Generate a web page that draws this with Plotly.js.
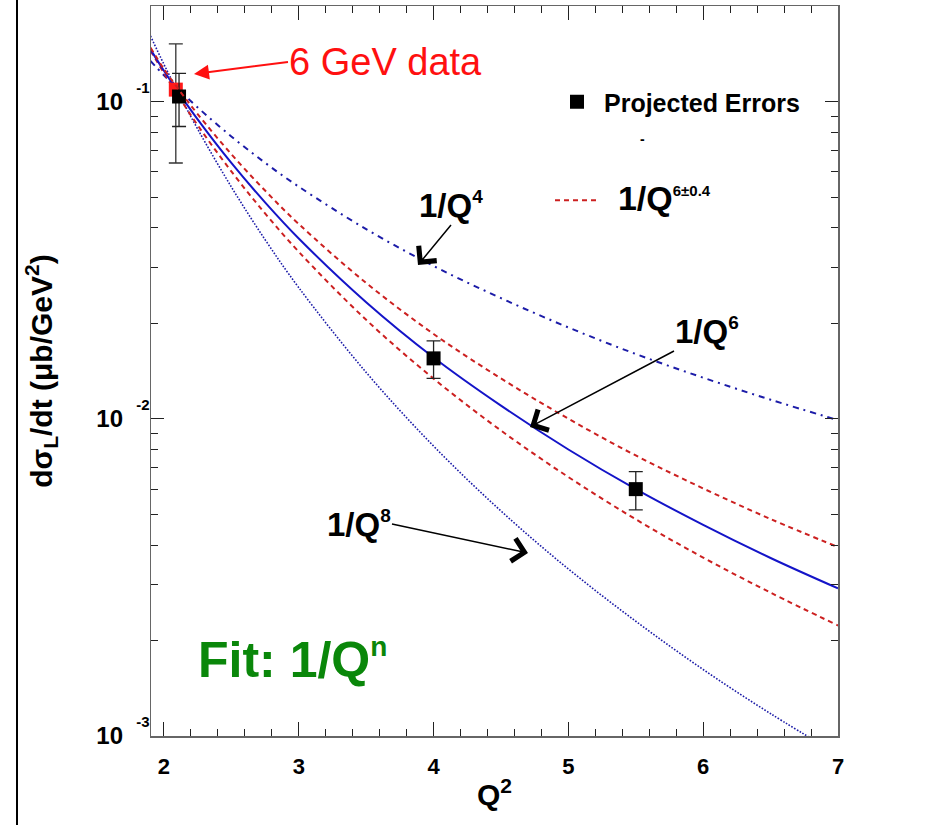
<!DOCTYPE html>
<html>
<head>
<meta charset="utf-8">
<script src="https://cdn.plot.ly/plotly-3.0.1.min.js"></script>
<style>html,body{margin:0;padding:0;background:#fff;}#chart{width:930px;height:825px;}</style>
</head>
<body>
<div id="chart"></div>
<script>
// ---- data ----
const q2Grid = [1.9, 2.0, 2.1, 2.25, 2.5, 2.75, 3.0, 3.5, 4.0, 4.5, 5.0, 5.5, 6.0, 6.5, 7.0];
const fitQ6   = [0.146, 0.125, 0.108, 0.0878, 0.064, 0.0481, 0.037, 0.0233, 0.0156, 0.0110, 0.0080, 0.0060, 0.00463, 0.00364, 0.00292];
const fitQ6up = [0.148, 0.1265, 0.1105, 0.0913, 0.0682, 0.0524, 0.0411, 0.0268, 0.0185, 0.0134, 0.0100, 0.00766, 0.00603, 0.00483, 0.00394];
const fitQ6lo = [0.1447, 0.123, 0.1052, 0.0842, 0.0602, 0.0444, 0.0336, 0.0205, 0.01338, 0.00918, 0.00655, 0.00482, 0.00365, 0.00283, 0.00223];
const fitQ4   = [0.1343, 0.121, 0.110, 0.0958, 0.0776, 0.0641, 0.0539, 0.0396, 0.0303, 0.0240, 0.0194, 0.0160, 0.01347, 0.01148, 0.0099];
const fitQ8   = [0.161, 0.131, 0.108, 0.0819, 0.0538, 0.0367, 0.0259, 0.0140, 0.0082, 0.00512, 0.00336, 0.0023, 0.00162, 0.001176, 0.000875];

const projQ2   = [2.112, 4.0, 5.5];
const projVal  = [0.1037, 0.0155, 0.0060];
const projErrP = [0.019, 0.0021, 0.00081];
const projErrM = [0.0203, 0.0021, 0.00084];

const gev6Q2   = [2.088];
const gev6Val  = [0.109];
const gev6ErrP = [0.043];
const gev6ErrM = [0.045];

const xTickVals = [2, 3, 4, 5, 6, 7];
const xTickText = ['2', '3', '4', '5', '6', '7'];
const yTickVals = [0.001, 0.01, 0.1];
const yExpText  = ['-3', '-2', '-1'];
const yTickText = yExpText.map(e => '10\u00a0\u00a0<sup><sup><span style="font-size:15px">' + e + '</span></sup></sup>');

// ---- layout helpers (pixel -> paper) ----
const L = 151, R = 838, T = 6, B = 736;
const PX = x => (x - L) / (R - L);
const PY = y => (B - y) / (B - T);
const FONT = 'Liberation Sans, Arial, Helvetica, sans-serif';

const yMinor = [];
[0.001, 0.01, 0.1].forEach(d => { for (let k = 2; k <= 9; k++) { if (k * d <= 0.2) yMinor.push(k * d); } });

const blueSolid = '#1414c8';
const blueDark = '#1c1ca8';
const redDash = '#cc2020';

const traces = [
  {x: q2Grid, y: fitQ8, mode: 'lines', line: {color: blueDark, width: 1.6, dash: '1.6px,1.6px', shape: 'spline'}, showlegend: false, name: '1/Q^8', hoverinfo: 'skip'},
  {x: q2Grid, y: fitQ4, mode: 'lines', line: {color: blueDark, width: 2, dash: '6px,5px,2px,5px', shape: 'spline'}, showlegend: false, name: '1/Q^4', hoverinfo: 'skip'},
  {x: q2Grid, y: fitQ6lo, mode: 'lines', line: {color: redDash, width: 2, dash: '5px,4px', shape: 'spline'}, showlegend: false, legendgroup: 'b', name: '1/Q^6.4', hoverinfo: 'skip'},
  {x: q2Grid, y: fitQ6, mode: 'lines', line: {color: blueSolid, width: 2, shape: 'spline'}, showlegend: false, name: '1/Q^6', hoverinfo: 'skip'},
  {x: gev6Q2, y: gev6Val, mode: 'markers', marker: {symbol: 'square', size: 14, color: '#ff1a1a'},
   error_y: {type: 'data', symmetric: false, array: gev6ErrP, arrayminus: gev6ErrM, color: '#333', thickness: 1.3, width: 7},
   showlegend: false, name: '6 GeV data'},
  {x: projQ2, y: projVal, mode: 'markers', marker: {symbol: 'square', size: 14, color: '#000'},
   error_y: {type: 'data', symmetric: false, array: projErrP, arrayminus: projErrM, color: '#222', thickness: 1.3, width: 7},
   showlegend: true, legendgroup: 'a', name: 'Projected Errors'},
  {x: q2Grid, y: fitQ6up, mode: 'lines', line: {color: redDash, width: 2, dash: '5px,4px', shape: 'spline'}, showlegend: true, legendgroup: 'b',
   name: '\u00a0\u00a0<span style="font-size:34px">1/Q<sup><span style="font-size:15px">6±0.4</span></sup></span>', hoverinfo: 'skip'}
];

// label with its own arrow: (tipX,tipY) is the arrow point, (tailX,tailY) the anchor of the text box
function pointer(text, size, color, bold, tipX, tipY, tailX, tailY, xanchor, yanchor, head, asize, awidth) {
  return {xref: 'paper', yref: 'paper', x: PX(tipX), y: PY(tipY), ax: tailX - tipX, ay: tailY - tipY,
    xanchor: xanchor, yanchor: yanchor, text: text, showarrow: true, arrowhead: head, arrowsize: asize,
    arrowwidth: awidth, arrowcolor: color, standoff: 0, startstandoff: 0, borderpad: 0,
    font: {family: FONT, size: size, color: color, weight: bold ? 700 : 400}};
}
function label(x, y, text, size, color, bold) {
  return {xref: 'paper', yref: 'paper', x: PX(x), y: PY(y), xanchor: 'left', yanchor: 'middle', showarrow: false,
    text: text, font: {family: FONT, size: size, color: color, weight: bold ? 700 : 400}};
}
const sup = (t, s) => '<sup><span style="font-size:' + s + 'px">' + t + '</span></sup>';

const annotations = [
  pointer('6 GeV data', 38, '#ff1010', false, 194, 74, 288, 62, 'left', 'middle', 2, 1.5, 2),
  pointer('1/Q' + sup('4', 19), 33, '#000', true, 418, 265, 451, 225, 'center', 'bottom', 4, 3.0, 1.5),
  pointer('1/Q' + sup('6', 19), 33, '#000', true, 530, 427, 674, 351, 'left', 'bottom', 4, 3.0, 1.5),
  pointer('1/Q' + sup('8', 19), 33, '#000', true, 528, 553, 392, 524, 'right', 'middle', 4, 3.0, 1.5),
  label(196, 659, 'Fit: 1/Q' + sup('n', 28), 50, '#0a870a', true),
  label(638, 139, '-', 14, '#000', true)
];

const layout = {
  width: 930, height: 825,
  margin: {l: L, r: 930 - R, t: T, b: 825 - B},
  paper_bgcolor: '#fff', plot_bgcolor: '#fff',
  font: {family: FONT, color: '#000'},
  showlegend: true,
  legend: {x: PX(550), y: PY(79), xanchor: 'left', yanchor: 'top', bgcolor: 'rgba(0,0,0,0)',
    font: {family: FONT, size: 25, weight: 700, color: '#000'}, itemwidth: 44, tracegroupgap: 63},
  xaxis: {
    type: 'linear', range: [1.904, 7.0], tickmode: 'array', tickvals: xTickVals, ticktext: xTickText,
    ticks: 'inside', ticklen: 14, tickwidth: 1, tickcolor: '#222',
    minor: {dtick: 0.2, tick0: 2, ticks: 'inside', ticklen: 7, tickwidth: 1, tickcolor: '#222'},
    showline: true, linecolor: '#666', linewidth: 1.5, mirror: 'allticks', showgrid: false, zeroline: false,
    tickfont: {family: FONT, size: 22, weight: 700}, ticklabelstandoff: 10,
    title: {text: 'Q<sup>2</sup>', font: {family: FONT, size: 30, weight: 700}, standoff: 6}
  },
  yaxis: {
    type: 'log', range: [-3, Math.log10(0.2)], tickmode: 'array', tickvals: yTickVals, ticktext: yTickText,
    ticks: 'inside', ticklen: 13, tickwidth: 1, tickcolor: '#222',
    minor: {tickmode: 'array', tickvals: yMinor, ticks: 'inside', ticklen: 7, tickwidth: 1, tickcolor: '#222'},
    showline: true, linecolor: '#666', linewidth: 1.5, mirror: 'allticks', showgrid: false, zeroline: false,
    tickfont: {family: FONT, size: 24, weight: 700}, ticklabelstandoff: -5,
    title: {text: 'dσ<sub>L</sub>/dt (μb/GeV<sup>2</sup>)', font: {family: FONT, size: 30, weight: 700}, standoff: 35}
  },
  annotations: annotations,
  shapes: [
    {type: 'line', xref: 'paper', yref: 'paper', x0: PX(17), x1: PX(17), y0: PY(0), y1: PY(825), line: {color: '#000', width: 2}}
  ]
};

Plotly.newPlot('chart', traces, layout, {displayModeBar: false, staticPlot: true});
</script>
</body>
</html>
